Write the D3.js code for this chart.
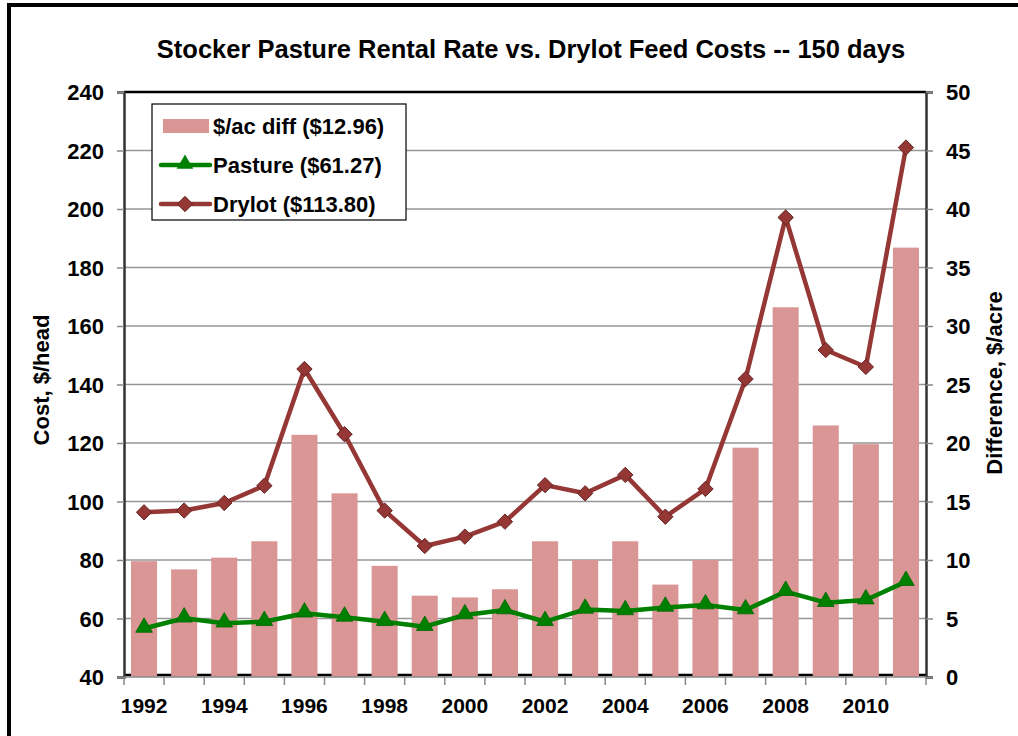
<!DOCTYPE html>
<html>
<head>
<meta charset="utf-8">
<script src="https://cdn.jsdelivr.net/npm/d3@7"></script>
<style>
  body { margin: 0; background: #fff; }
  text { font-family: "Liberation Sans", Arial, sans-serif; font-weight: bold; fill: #000; }
</style>
</head>
<body>
<div id="chart"></div>
<script>
var years = [1992, 1993, 1994, 1995, 1996, 1997, 1998, 1999, 2000, 2001,
             2002, 2003, 2004, 2005, 2006, 2007, 2008, 2009, 2010, 2011];
var diffPerAcre = [9.9, 9.2, 10.2, 11.6, 20.7, 15.7, 9.5, 6.95, 6.8, 7.5,
                   11.6, 10.0, 11.6, 7.9, 10.0, 19.6, 31.6, 21.5, 19.9, 36.7];
var pasture = [56.6, 60.1, 58.4, 58.9, 61.8, 60.4, 58.9, 57.2, 61.2, 62.9,
               58.9, 63.1, 62.6, 63.8, 64.6, 62.9, 69.2, 65.4, 66.3, 72.6];
var drylot = [96.3, 96.9, 99.5, 105.4, 145.3, 123.0, 96.9, 84.8, 88.0, 93.1,
              105.6, 102.8, 109.1, 94.8, 104.3, 141.9, 197.1, 151.8, 146.0, 221.0];
var leftTicks = [40, 60, 80, 100, 120, 140, 160, 180, 200, 220, 240];
var rightTicks = [0, 5, 10, 15, 20, 25, 30, 35, 40, 45, 50];
var legendLabels = ["$/ac diff ($12.96)", "Pasture ($61.27)", "Drylot ($113.80)"];

var W = 1018, H = 736;
var margin = { top: 92, right: 92, bottom: 59, left: 124 };
var w = W - margin.left - margin.right, h = H - margin.top - margin.bottom;

var svg = d3.select("#chart").append("svg")
    .attr("width", W).attr("height", H);

// outer frame
svg.append("rect")
    .attr("x", 9).attr("y", 5)
    .attr("width", W + 20).attr("height", H + 20)
    .attr("fill", "none").attr("stroke", "#000").attr("stroke-width", 4);

// title
svg.append("text")
    .attr("x", 531).attr("y", 58)
    .attr("text-anchor", "middle")
    .style("font-size", "25.5px")
    .text("Stocker Pasture Rental Rate vs. Drylot Feed Costs -- 150 days");

var g = svg.append("g").attr("transform", "translate(" + margin.left + "," + margin.top + ")");

var x = d3.scaleBand().domain(years).range([0, w]).padding(0);
var yL = d3.scaleLinear().domain([40, 240]).range([h, 0]);
var yR = d3.scaleLinear().domain([0, 50]).range([h, 0]);

// gridlines
g.selectAll("line.grid")
    .data(leftTicks.slice(1, -1))
    .enter().append("line")
    .attr("class", "grid")
    .attr("x1", 0).attr("x2", w)
    .attr("y1", function (d) { return yL(d); })
    .attr("y2", function (d) { return yL(d); })
    .attr("stroke", "#969696").attr("stroke-width", 1.6);

// baseline (behind bars)
g.append("line")
    .attr("x1", 0).attr("x2", w).attr("y1", h - 2).attr("y2", h - 2)
    .attr("stroke", "#000").attr("stroke-width", 2.5);

// bars
var barW = x.bandwidth() * 0.65;
g.selectAll("rect.bar")
    .data(diffPerAcre)
    .enter().append("rect")
    .attr("class", "bar")
    .attr("x", function (d, i) { return x(years[i]) + (x.bandwidth() - barW) / 2; })
    .attr("y", function (d) { return yR(d); })
    .attr("width", barW)
    .attr("height", function (d) { return h - yR(d); })
    .attr("fill", "#D99694");

// plot top border
g.append("line")
    .attr("x1", 0).attr("x2", w).attr("y1", 0).attr("y2", 0)
    .attr("stroke", "#000").attr("stroke-width", 2.5);

// left axis
var axL = g.append("g")
    .call(d3.axisLeft(yL).tickValues(leftTicks).tickSize(7).tickPadding(13));
axL.select(".domain").attr("stroke", "#333").attr("stroke-width", 2.5);
axL.selectAll(".tick line").attr("stroke", "#888").attr("stroke-width", 1.5);
axL.selectAll(".tick text").style("font-size", "22px").attr("dy", "0.36em");

// right axis
var axR = g.append("g").attr("transform", "translate(" + w + ",0)")
    .call(d3.axisRight(yR).tickValues(rightTicks).tickSize(7).tickPadding(13));
axR.select(".domain").attr("stroke", "#333").attr("stroke-width", 2.5);
axR.selectAll(".tick line").attr("stroke", "#888").attr("stroke-width", 1.5);
axR.selectAll(".tick text").style("font-size", "22px").attr("dy", "0.36em");

// bottom axis: ticks at band boundaries, labels on every other year
var bottom = g.append("g").attr("transform", "translate(0," + h + ")");
bottom.append("line")
    .attr("x1", 0).attr("x2", w).attr("y1", 0).attr("y2", 0)
    .attr("stroke", "#888").attr("stroke-width", 1.5);
bottom.selectAll("line.tk")
    .data(years.concat([null]))
    .enter().append("line")
    .attr("class", "tk")
    .attr("x1", function (d, i) { return i * x.step(); })
    .attr("x2", function (d, i) { return i * x.step(); })
    .attr("y1", 0).attr("y2", 8)
    .attr("stroke", "#888").attr("stroke-width", 1.5);
bottom.selectAll("text.yr")
    .data(years.filter(function (d) { return d % 2 === 0; }))
    .enter().append("text")
    .attr("class", "yr")
    .attr("x", function (d) { return x(d) + x.bandwidth() / 2; })
    .attr("y", 36)
    .attr("text-anchor", "middle")
    .style("font-size", "21px")
    .text(function (d) { return d; });

// axis titles
svg.append("text")
    .attr("transform", "translate(49,380) rotate(-90)")
    .attr("text-anchor", "middle")
    .style("font-size", "22px")
    .text("Cost,  $/head");
svg.append("text")
    .attr("transform", "translate(1002,383) rotate(-90)")
    .attr("text-anchor", "middle")
    .style("font-size", "22px")
    .text("Difference,  $/acre");

// lines
var lineFn = function (yScale) {
    return d3.line()
        .x(function (d, i) { return x(years[i]) + x.bandwidth() / 2; })
        .y(function (d) { return yScale(d); });
};

g.append("path")
    .datum(pasture)
    .attr("d", lineFn(yL))
    .attr("fill", "none").attr("stroke", "#008000")
    .attr("stroke-width", 4.5).attr("stroke-linejoin", "round");

var tri = d3.symbol().type(d3.symbolTriangle).size(120);
g.selectAll("path.tri")
    .data(pasture)
    .enter().append("path")
    .attr("class", "tri")
    .attr("d", tri)
    .attr("transform", function (d, i) {
        return "translate(" + (x(years[i]) + x.bandwidth() / 2) + "," + (yL(d) - 1) + ")";
    })
    .attr("fill", "#008000").attr("stroke", "#006400").attr("stroke-width", 0.8);

g.append("path")
    .datum(drylot)
    .attr("d", lineFn(yL))
    .attr("fill", "none").attr("stroke", "#953735")
    .attr("stroke-width", 4.5).attr("stroke-linejoin", "round");

var dia = d3.symbol().type(d3.symbolDiamond2).size(150);
g.selectAll("path.dia")
    .data(drylot)
    .enter().append("path")
    .attr("class", "dia")
    .attr("d", dia)
    .attr("transform", function (d, i) {
        return "translate(" + (x(years[i]) + x.bandwidth() / 2) + "," + yL(d) + ")";
    })
    .attr("fill", "#953735").attr("stroke", "#632523").attr("stroke-width", 1);

// legend
var lg = svg.append("g").attr("transform", "translate(152,104)");
lg.append("rect")
    .attr("width", 254).attr("height", 116)
    .attr("fill", "#fff").attr("stroke", "#000").attr("stroke-width", 1.2);
var rowY = [22, 61, 100];
lg.append("rect")
    .attr("x", 11).attr("y", rowY[0] - 7).attr("width", 46).attr("height", 14)
    .attr("fill", "#D99694");
lg.append("line")
    .attr("x1", 9).attr("x2", 58).attr("y1", rowY[1]).attr("y2", rowY[1])
    .attr("stroke", "#008000").attr("stroke-width", 4.5).attr("stroke-linecap", "round");
lg.append("path").attr("d", tri)
    .attr("transform", "translate(33," + (rowY[1] - 1) + ")")
    .attr("fill", "#008000");
lg.append("line")
    .attr("x1", 9).attr("x2", 58).attr("y1", rowY[2]).attr("y2", rowY[2])
    .attr("stroke", "#953735").attr("stroke-width", 4.5).attr("stroke-linecap", "round");
lg.append("path").attr("d", dia)
    .attr("transform", "translate(33," + rowY[2] + ")")
    .attr("fill", "#953735").attr("stroke", "#632523").attr("stroke-width", 1);
lg.selectAll("text.lbl")
    .data(legendLabels)
    .enter().append("text")
    .attr("class", "lbl")
    .attr("x", 61)
    .attr("y", function (d, i) { return rowY[i]; })
    .attr("dy", "0.36em")
    .style("font-size", "22px")
    .text(function (d) { return d; });
</script>
</body>
</html>
